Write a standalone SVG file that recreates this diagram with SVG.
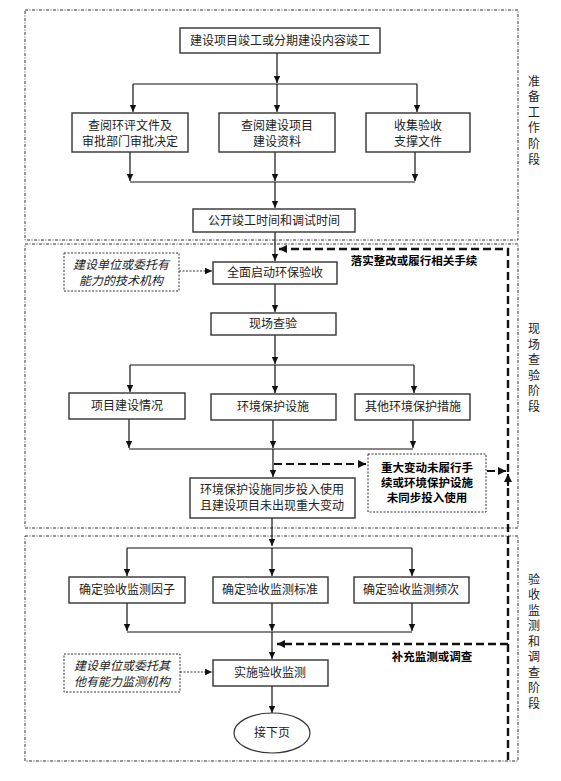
<svg xmlns="http://www.w3.org/2000/svg" width="561" height="781" viewBox="0 0 561 781">
<style>
.sec{fill:none;stroke:#333;stroke-width:1;stroke-dasharray:3,1.5,1,1.5}
.box{fill:#fff;stroke:#333;stroke-width:1.4}
.dbox{fill:#fff;stroke:#333;stroke-width:1;stroke-dasharray:2,1.5}
.t{font-family:"Liberation Serif","Noto Sans CJK SC",serif;font-size:12px;fill:#222;text-anchor:middle}
.it{font-style:italic}
.b{font-family:"Liberation Sans","Noto Sans CJK SC",sans-serif;font-weight:bold;font-size:11.5px;fill:#000;text-anchor:middle}
.lab{font-family:"Liberation Serif","Noto Sans CJK SC",serif;font-size:12px;fill:#222;text-anchor:middle}
.ln{fill:none;stroke:#111;stroke-width:1.2}
.dl{fill:none;stroke:#111;stroke-width:2.4;stroke-dasharray:8,4}
.dt{fill:none;stroke:#333;stroke-width:1;stroke-dasharray:2,1.5}
</style>
<defs>
<marker id="ah" markerWidth="8" markerHeight="8" refX="7" refY="4" orient="auto" markerUnits="userSpaceOnUse">
<path d="M0,0.8 L7,4 L0,7.2 Z" fill="#111"/>
</marker>
<marker id="ahb" markerWidth="10" markerHeight="10" refX="8" refY="5" orient="auto" markerUnits="userSpaceOnUse">
<path d="M0,1 L8,5 L0,9 Z" fill="#111"/>
</marker>
</defs>
<rect width="561" height="781" fill="#fff"/>

<g id="sections">
<rect class="sec" x="25" y="10" width="493" height="230"/>
<rect class="sec" x="25" y="244" width="493" height="284"/>
<rect class="sec" x="25" y="536" width="493" height="225"/>
</g>

<g id="stage-labels">
<text class="lab" x="534"><tspan x="534" y="86">准</tspan><tspan x="534" y="101">备</tspan><tspan x="534" y="117">工</tspan><tspan x="534" y="132">作</tspan><tspan x="534" y="148">阶</tspan><tspan x="534" y="164">段</tspan></text>
<text class="lab" x="534"><tspan x="534" y="333">现</tspan><tspan x="534" y="349">场</tspan><tspan x="534" y="364">查</tspan><tspan x="534" y="380">验</tspan><tspan x="534" y="395">阶</tspan><tspan x="534" y="411">段</tspan></text>
<text class="lab" x="534"><tspan x="534" y="584">验</tspan><tspan x="534" y="599">收</tspan><tspan x="534" y="615">监</tspan><tspan x="534" y="630">测</tspan><tspan x="534" y="646">和</tspan><tspan x="534" y="661">调</tspan><tspan x="534" y="677">查</tspan><tspan x="534" y="692">阶</tspan><tspan x="534" y="708">段</tspan></text>
</g>

<g id="connectors">
<!-- section 1 -->
<path class="ln" d="M277,53 V83" marker-end="url(#ah)"/>
<path class="ln" d="M133,84 H417"/>
<path class="ln" d="M133,84 V112" marker-end="url(#ah)"/>
<path class="ln" d="M277,84 V112" marker-end="url(#ah)"/>
<path class="ln" d="M417,84 V112" marker-end="url(#ah)"/>
<path class="ln" d="M130,152 V181" marker-end="url(#ah)"/>
<path class="ln" d="M275,152 V181" marker-end="url(#ah)"/>
<path class="ln" d="M415,152 V181" marker-end="url(#ah)"/>
<path class="ln" d="M130,182 H415"/>
<path class="ln" d="M275,182 V208" marker-end="url(#ah)"/>
<!-- section 2 -->
<path class="ln" d="M275,232 V261" marker-end="url(#ah)"/>
<path class="dt" d="M179,271 H212" marker-end="url(#ah)"/>
<path class="ln" d="M275,284 V312" marker-end="url(#ah)"/>
<path class="ln" d="M275,335 V364" marker-end="url(#ah)"/>
<path class="ln" d="M130,365 H414"/>
<path class="ln" d="M130,365 V392" marker-end="url(#ah)"/>
<path class="ln" d="M275,365 V393" marker-end="url(#ah)"/>
<path class="ln" d="M414,365 V393" marker-end="url(#ah)"/>
<path class="ln" d="M129,419 V448" marker-end="url(#ah)"/>
<path class="ln" d="M273,420 V448" marker-end="url(#ah)"/>
<path class="ln" d="M413,420 V448" marker-end="url(#ah)"/>
<path class="ln" d="M129,449 H413"/>
<path class="ln" d="M273,449 V477" marker-end="url(#ah)"/>
<path class="dl" d="M274,464 H366" marker-end="url(#ahb)" style="stroke-width:2"/>
<path class="dl" d="M487,471 H506" marker-end="url(#ahb)" style="stroke-width:2"/>
<path class="dl" d="M508,760 V249 H279" marker-end="url(#ahb)"/>
<path class="ln" d="M508,486 V474" marker-end="url(#ahb)" style="stroke-width:2"/>
<!-- section 3 -->
<path class="ln" d="M272,518 V546" marker-end="url(#ah)"/>
<path class="ln" d="M127,548 H412"/>
<path class="ln" d="M127,548 V576" marker-end="url(#ah)"/>
<path class="ln" d="M272,548 V576" marker-end="url(#ah)"/>
<path class="ln" d="M412,548 V576" marker-end="url(#ah)"/>
<path class="ln" d="M127,603 V631" marker-end="url(#ah)"/>
<path class="ln" d="M272,603 V631" marker-end="url(#ah)"/>
<path class="ln" d="M412,603 V631" marker-end="url(#ah)"/>
<path class="ln" d="M127,632 H412"/>
<path class="ln" d="M272,632 V659" marker-end="url(#ah)"/>
<path class="dl" d="M508,644 H277" marker-end="url(#ahb)"/>
<path class="dt" d="M180,672 H212" marker-end="url(#ah)"/>
<path class="ln" d="M272,686 V713" marker-end="url(#ah)"/>
</g>

<g id="dashed-labels">
<text class="b" x="414" y="265">落实整改或履行相关手续</text>
<text class="b" x="432" y="661">补充监测或调查</text>
</g>

<g id="n1"><rect class="box" x="180" y="28" width="200" height="25"/><text class="t" x="280" y="45">建设项目竣工或分期建设内容竣工</text></g>
<g id="n2"><rect class="box" x="72" y="113" width="116" height="39"/><text class="t" x="130" y="130">查阅环评文件及</text><text class="t" x="130" y="146">审批部门审批决定</text></g>
<g id="n3"><rect class="box" x="219" y="113" width="116" height="39"/><text class="t" x="277" y="130">查阅建设项目</text><text class="t" x="277" y="146">建设资料</text></g>
<g id="n4"><rect class="box" x="366" y="113" width="104" height="39"/><text class="t" x="418" y="130">收集验收</text><text class="t" x="418" y="146">支撑文件</text></g>
<g id="n5"><rect class="box" x="193" y="209" width="162" height="23"/><text class="t" x="274" y="225">公开竣工时间和调试时间</text></g>

<g id="n6"><rect class="dbox" x="64" y="253" width="115" height="38"/><text class="t it" x="121" y="269">建设单位或委托有</text><text class="t it" x="121" y="285">能力的技术机构</text></g>
<g id="n7"><rect class="box" x="213" y="262" width="124" height="22"/><text class="t" x="275" y="277">全面启动环保验收</text></g>
<g id="n8"><rect class="box" x="211" y="313" width="125" height="22"/><text class="t" x="273" y="328">现场查验</text></g>
<g id="n9"><rect class="box" x="69" y="393" width="116" height="26"/><text class="t" x="127" y="410">项目建设情况</text></g>
<g id="n10"><rect class="box" x="211" y="394" width="125" height="26"/><text class="t" x="273" y="411">环境保护设施</text></g>
<g id="n11"><rect class="box" x="355" y="394" width="115" height="26"/><text class="t" x="413" y="411">其他环境保护措施</text></g>
<g id="n12"><rect class="dbox" x="368" y="454" width="118" height="58"/><text class="b" x="427" y="472">重大变动未履行手</text><text class="b" x="427" y="487">续或环境保护设施</text><text class="b" x="427" y="502">未同步投入使用</text></g>
<g id="n13"><rect class="box" x="190" y="478" width="165" height="40"/><text class="t" x="272" y="494">环境保护设施同步投入使用</text><text class="t" x="272" y="510">且建设项目未出现重大变动</text></g>

<g id="n14"><rect class="box" x="69" y="577" width="116" height="26"/><text class="t" x="127" y="594">确定验收监测因子</text></g>
<g id="n15"><rect class="box" x="213" y="577" width="115" height="26"/><text class="t" x="270" y="594">确定验收监测标准</text></g>
<g id="n16"><rect class="box" x="354" y="577" width="115" height="26"/><text class="t" x="411" y="594">确定验收监测频次</text></g>
<g id="n17"><rect class="dbox" x="64" y="654" width="116" height="38"/><text class="t it" x="122" y="670">建设单位或委托其</text><text class="t it" x="122" y="686">他有能力监测机构</text></g>
<g id="n18"><rect class="box" x="213" y="660" width="115" height="26"/><text class="t" x="270" y="677">实施验收监测</text></g>
<g id="n19"><ellipse cx="272" cy="733" rx="38" ry="20" fill="#fff" stroke="#333" stroke-width="1.2"/><text class="t" x="272" y="737">接下页</text></g>
</svg>
